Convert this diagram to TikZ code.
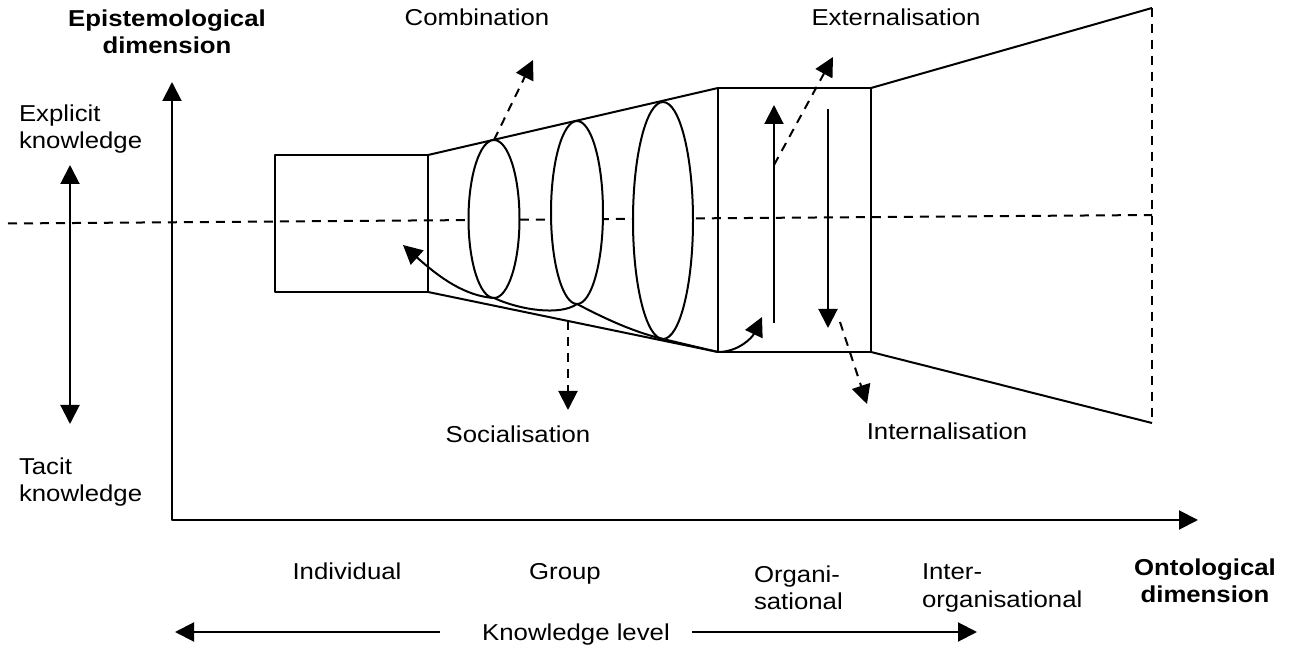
\documentclass[tikz,border=0pt]{standalone}
\usepackage{fontspec}
\setmainfont{Liberation Sans}[FakeStretch=1.12]
\usetikzlibrary{arrows.meta}
\begin{document}
\begin{tikzpicture}[x=0.5pt,y=-0.5pt,
  line width=1pt, line join=round,
  tip/.style={-{Triangle[length=9.5pt,width=9.5pt]}},
  dtip/.style={{Triangle[length=9.5pt,width=9.5pt]}-{Triangle[length=9.5pt,width=9.5pt]}},
  dsh/.style={dash pattern=on 4.5pt off 3.5pt},
  lbl/.style={font=\fontsize{11.5}{13.7}\selectfont, inner sep=0pt},
  blbl/.style={font=\fontsize{11.5}{13.7}\selectfont\bfseries, inner sep=0pt, align=center},
  outline/.style={line width=1pt},
  oval/.style={draw, fill=white, line width=1pt}]
\useasboundingbox (0,0) rectangle (1298,652);

% coordinates
\coordinate (dl) at (8,223.5);
\coordinate (dr) at (1152,215);
\coordinate (ytip) at (172,82);
\coordinate (orig) at (172,520);
\coordinate (xtip) at (1198,520);
\coordinate (ek) at (70,165);
\coordinate (tk) at (70,424);

% box corners
\coordinate (b1tl) at (275,155);
\coordinate (b1br) at (428,292);
\coordinate (b1tr) at (428,155);
\coordinate (b3tl) at (718,88);
\coordinate (b3bl) at (718,352);
\coordinate (b3tr) at (871,88);
\coordinate (b3br) at (871,352);
\coordinate (t4t) at (1152,8);
\coordinate (t4b) at (1152,423);

% ellipse centres and touch points
\coordinate (e1) at (494,219);
\coordinate (e2) at (577,212.5);
\coordinate (e3) at (663,220.5);
\coordinate (e1top) at (494,140);
\coordinate (e1bot) at (494,298);
\coordinate (e2bot) at (577,304);
\coordinate (e3bot) at (663,339);

% central dashed line
\draw[dsh] (dl) -- (dr);

% axes
\draw[dtip] (ytip) -- (orig) -- (xtip);
\draw[dtip] (ek) -- (tk);

% individual box
\draw[outline] (b1tl) rectangle (b1br);
% group trapezoid
\draw[outline] (b1tr) -- (b3tl);
\draw[outline] (b1br) -- (b3bl);
% organisational box
\draw[outline] (b3tl) rectangle (b3br);
% inter-organisational trapezoid
\draw[outline] (b3tr) -- (t4t);
\draw[outline] (b3br) -- (t4b);
\draw[dsh] (t4t) -- (t4b);

% ellipses
\draw[oval] (e1) ellipse [x radius=12.75pt, y radius=39.5pt];
\draw[oval] (e2) ellipse [x radius=13pt, y radius=45.75pt];
\draw[oval] (e3) ellipse [x radius=15pt, y radius=59.25pt];

% socialisation spiral
\coordinate (soctip) at (403,245);
\coordinate (orgtip) at (762,317);
\draw[dtip] (soctip) .. controls (440,278) and (465,296) .. (e1bot)
  .. controls (520,310) and (560,316) .. (e2bot)
  .. controls (600,316) and (630,331) .. (e3bot)
  -- (b3bl) .. controls (738,352) and (752,338) .. (orgtip);

% vertical arrows in organisational box
\coordinate (upb) at (774,323);
\coordinate (upt) at (774,105);
\coordinate (dnt) at (828,109);
\coordinate (dnb) at (828,328);
\draw[tip] (upb) -- (upt);
\draw[tip] (dnt) -- (dnb);

% labels
\node[lbl, anchor=base] (comb) at (477,26) {Combination};
\node[lbl, anchor=base] (ext) at (896,26) {Externalisation};
\node[lbl, anchor=base] (soc) at (518,443) {Socialisation};
\node[lbl, anchor=base] (int) at (947,440) {Internalisation};

% dashed pointer arrows
\coordinate (combtip) at (533,60);
\coordinate (extstart) at (774,165);
\coordinate (exttip) at (833,57);
\coordinate (socstart) at (568,321);
\coordinate (soctip2) at (568,410);
\coordinate (intstart) at (840,322);
\coordinate (inttip) at (867,404);
\draw[dsh,tip] (e1top) -- (combtip);
\draw[dsh,tip] (extstart) -- (exttip);
\draw[dsh,tip] (socstart) -- (soctip2);
\draw[dsh,tip] (intstart) -- (inttip);

% axis titles
\node[blbl] (epi) at (167,32) {Epistemological\\dimension};
\node[blbl] (onto) at (1205,581) {Ontological\\dimension};
\node[lbl, anchor=west, align=left] (expl) at (18,129) {Explicit\\knowledge};
\node[lbl, anchor=west, align=left] (tacit) at (18,482) {Tacit\\knowledge};

% levels
\node[lbl, anchor=base] (indiv) at (347,580) {Individual};
\node[lbl, anchor=base] (group) at (565,580) {Group};
\node[lbl, anchor=west, align=left] (orgn) at (753,588) {Organi-\\sational};
\node[lbl, anchor=west, align=left] (inter) at (921,588) {Inter-\\organisational};
\node[lbl, anchor=base] (kl) at (576,640) {Knowledge level};
\coordinate (kll) at (440,632);
\coordinate (klltip) at (175,632);
\coordinate (klr) at (692,632);
\coordinate (klrtip) at (977,632);
\draw[tip] (kll) -- (klltip);
\draw[tip] (klr) -- (klrtip);
\end{tikzpicture}
\end{document}
